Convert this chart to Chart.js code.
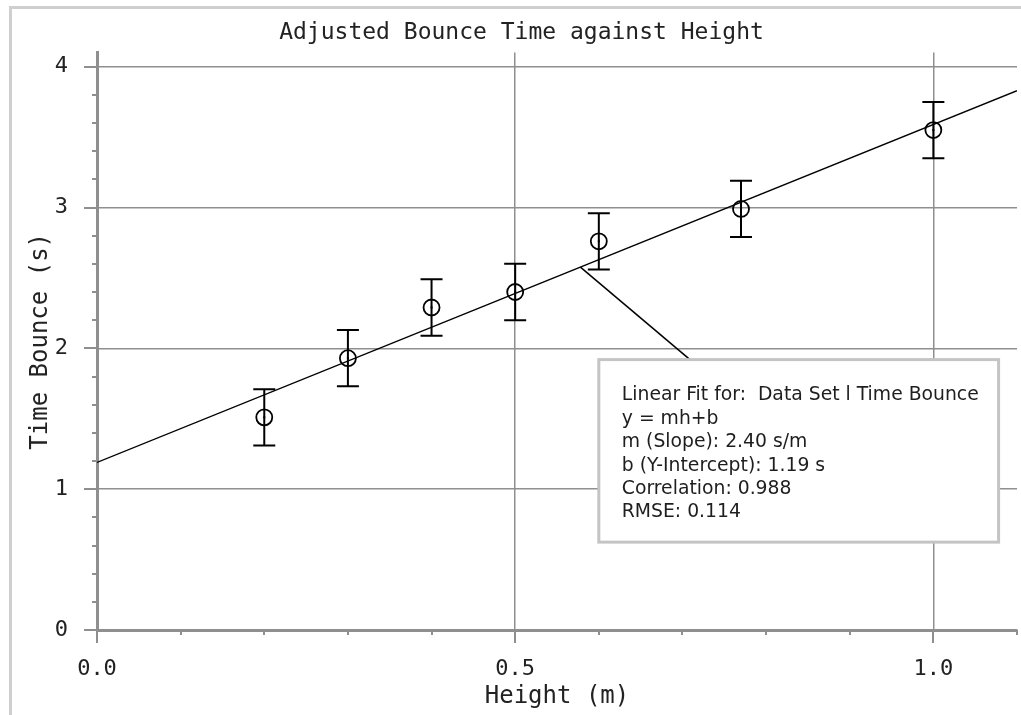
<!DOCTYPE html>
<html>
<head>
<meta charset="utf-8">
<title>Adjusted Bounce Time against Height</title>
<script src="https://cdn.jsdelivr.net/npm/chart.js@4/dist/chart.umd.min.js"></script>
<style>
  html, body { margin: 0; padding: 0; background: #fff; overflow: hidden; }
  #wrap { position: relative; width: 1021px; height: 715px; }
  #frame { position: absolute; left: 9px; top: 6px; width: 1100px; height: 800px; border: 3px solid #cfcfcf; box-sizing: border-box; }
  canvas { position: absolute; left: 0; top: 0; }
</style>
</head>
<body>
<div id="wrap">
  <div id="frame"></div>
  <canvas id="chart" width="1021" height="715"></canvas>
</div>
<script>
// measured data
var heights = [0.2, 0.3, 0.4, 0.5, 0.6, 0.77, 1.0];
var bounceTimes = [1.51, 1.93, 2.29, 2.40, 2.76, 2.99, 3.55];
var timeErrors = [0.2, 0.2, 0.2, 0.2, 0.2, 0.2, 0.2];

// linear fit y = mh+b, endpoints over the axis range
var fitX = [0, 1.1];
var fitY = [1.19, 3.83];

var xTickLabels = ['0.0', '0.5', '1.0'];
var yTickLabels = ['0', '1', '2', '3', '4'];

var fitLines = [
    'Linear Fit for:  Data Set l Time Bounce',
    'y = mh+b',
    'm (Slope): 2.40 s/m',
    'b (Y-Intercept): 1.19 s',
    'Correlation: 0.988',
    'RMSE: 0.114'
];

var MONO = '"DejaVu Sans Mono", monospace';
var GRID = '#8f8f8f';

function isMultiple(v, step) {
    return Math.abs(v / step - Math.round(v / step)) < 1e-6;
}

var points = heights.map(function (h, i) { return { x: h, y: bounceTimes[i] }; });
var fitPoints = fitX.map(function (h, i) { return { x: h, y: fitY[i] }; });

// error bars + centre dots
var errorBars = {
    id: 'errorBars',
    afterDatasetsDraw: function (chart) {
        var ctx = chart.ctx, xs = chart.scales.x, ys = chart.scales.y;
        ctx.save();
        ctx.strokeStyle = '#000';
        ctx.fillStyle = '#000';
        ctx.lineWidth = 2;
        for (var i = 0; i < heights.length; i++) {
            var px = xs.getPixelForValue(heights[i]);
            var top = ys.getPixelForValue(bounceTimes[i] + timeErrors[i]);
            var bot = ys.getPixelForValue(bounceTimes[i] - timeErrors[i]);
            ctx.beginPath();
            ctx.moveTo(px, top); ctx.lineTo(px, bot);
            ctx.moveTo(px - 11, top); ctx.lineTo(px + 11, top);
            ctx.moveTo(px - 11, bot); ctx.lineTo(px + 11, bot);
            ctx.stroke();
            ctx.fillRect(px - 1, ys.getPixelForValue(bounceTimes[i]) - 1, 2, 2);
        }
        ctx.restore();
    }
};

// outward tick marks, long on labelled values
var axisTicks = {
    id: 'axisTicks',
    afterDraw: function (chart) {
        var ctx = chart.ctx, xs = chart.scales.x, ys = chart.scales.y, area = chart.chartArea;
        ctx.save();
        ctx.strokeStyle = GRID;
        ctx.lineWidth = 2;
        ctx.beginPath();
        xs.ticks.forEach(function (t) {
            if (!isMultiple(t.value, 0.1)) return;
            var px = Math.round(xs.getPixelForValue(t.value));
            var len = isMultiple(t.value, 0.5) ? 13 : 5;
            ctx.moveTo(px, area.bottom); ctx.lineTo(px, area.bottom + len);
        });
        ys.ticks.forEach(function (t) {
            if (!isMultiple(t.value, 0.2)) return;
            var py = Math.round(ys.getPixelForValue(t.value));
            var len = isMultiple(t.value, 1) ? 13 : 5;
            ctx.moveTo(area.left, py); ctx.lineTo(area.left - len, py);
        });
        ctx.stroke();
        ctx.restore();
    }
};

// fit statistics box with leader line
var fitBox = {
    id: 'fitBox',
    afterDraw: function (chart) {
        var ctx = chart.ctx, xs = chart.scales.x, ys = chart.scales.y;
        var left = xs.getPixelForValue(0.6), right = xs.getPixelForValue(1.078);
        var top = ys.getPixelForValue(1.92), bottom = ys.getPixelForValue(0.624);
        var ax = 0.578, ay = fitY[0] + (fitY[1] - fitY[0]) * (ax - fitX[0]) / (fitX[1] - fitX[0]);
        ctx.save();
        ctx.strokeStyle = '#000';
        ctx.lineWidth = 1.5;
        ctx.beginPath();
        ctx.moveTo(xs.getPixelForValue(ax), ys.getPixelForValue(ay));
        ctx.lineTo(xs.getPixelForValue(0.709), top);
        ctx.stroke();

        ctx.fillStyle = '#fff';
        ctx.fillRect(left, top, right - left, bottom - top);
        ctx.strokeStyle = '#c4c4c4';
        ctx.lineWidth = 3;
        ctx.strokeRect(left, top, right - left, bottom - top);

        ctx.fillStyle = '#1e1e1e';
        ctx.font = '18.8px "DejaVu Sans", sans-serif';
        ctx.textBaseline = 'middle';
        fitLines.forEach(function (line, i) {
            ctx.fillText(line, left + 23, top + 36 + i * 23.4);
        });
        ctx.restore();
    }
};

new Chart(document.getElementById('chart').getContext('2d'), {
    type: 'scatter',
    data: {
        datasets: [{
            label: 'Time Bounce',
            data: points,
            pointStyle: 'circle',
            pointRadius: 8,
            pointHoverRadius: 8,
            pointBorderWidth: 1.8,
            pointBorderColor: '#000',
            pointBackgroundColor: 'rgba(0,0,0,0)',
            showLine: false
        }, {
            label: 'Linear Fit',
            data: fitPoints,
            showLine: true,
            borderColor: '#000',
            borderWidth: 1.4,
            pointRadius: 0,
            fill: false
        }]
    },
    options: {
        responsive: false,
        animation: false,
        devicePixelRatio: 1,
        layout: { autoPadding: false, padding: { left: 26, right: 4, top: 0, bottom: 0 } },
        plugins: {
            legend: { display: false },
            tooltip: { enabled: false },
            title: {
                display: true,
                text: 'Adjusted Bounce Time against Height',
                color: '#222',
                font: { family: MONO, size: 23, weight: 'normal' },
                padding: { top: 19, bottom: 6 }
            }
        },
        scales: {
            x: {
                type: 'linear',
                min: 0,
                max: 1.1,
                afterFit: function (scale) {
                    scale.height = 85;
                    scale.paddingLeft = 0;
                    scale.paddingRight = 0;
                },
                ticks: {
                    stepSize: 0.1,
                    padding: 26,
                    color: '#222',
                    font: { family: MONO, size: 22 },
                    maxRotation: 0,
                    autoSkip: false,
                    callback: function (v) {
                        if (!isMultiple(v, 0.5)) return '';
                        return xTickLabels[Math.round(v / 0.5)];
                    }
                },
                grid: {
                    drawTicks: false,
                    lineWidth: 1.5,
                    color: function (c) {
                        return c.tick && isMultiple(c.tick.value, 0.5) && c.tick.value > 0 ? GRID : 'rgba(0,0,0,0)';
                    }
                },
                border: { display: true, color: GRID, width: 3 },
                title: {
                    display: true,
                    text: 'Height (m)',
                    color: '#222',
                    font: { family: MONO, size: 24 },
                    padding: { top: 0, bottom: 4 }
                }
            },
            y: {
                type: 'linear',
                min: 0,
                max: 4.1,
                afterFit: function (scale) {
                    scale.width = 71;
                    scale.paddingTop = 0;
                    scale.paddingBottom = 0;
                },
                ticks: {
                    stepSize: 0.1,
                    padding: 29,
                    color: '#222',
                    font: { family: MONO, size: 22 },
                    autoSkip: false,
                    callback: function (v) {
                        if (!isMultiple(v, 1)) return '';
                        return yTickLabels[Math.round(v)];
                    }
                },
                grid: {
                    drawTicks: false,
                    lineWidth: 1.5,
                    color: function (c) {
                        return c.tick && isMultiple(c.tick.value, 1) && c.tick.value > 0 ? GRID : 'rgba(0,0,0,0)';
                    }
                },
                border: { display: true, color: GRID, width: 3 },
                title: {
                    display: true,
                    text: 'Time Bounce (s)',
                    color: '#222',
                    font: { family: MONO, size: 24 },
                    padding: { top: 0, bottom: 0 }
                }
            }
        }
    },
    plugins: [errorBars, axisTicks, fitBox]
});
</script>
</body>
</html>
